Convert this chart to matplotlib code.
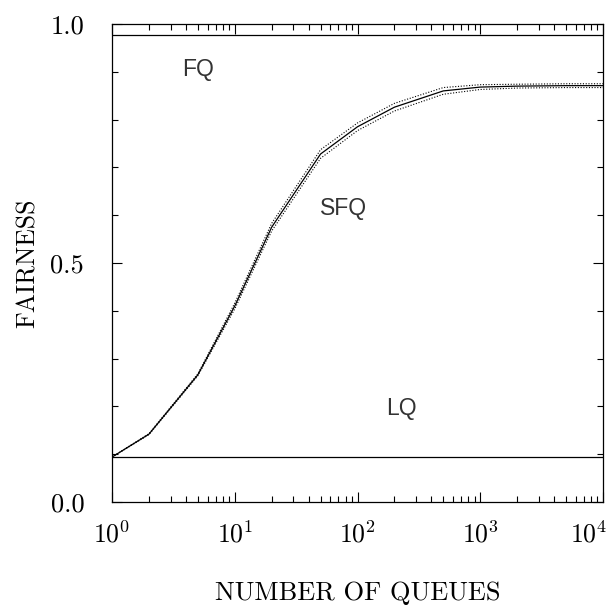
import numpy as np
import matplotlib
matplotlib.use("Agg")
import matplotlib.pyplot as plt
import matplotlib.transforms as mtransforms
from matplotlib.ticker import LogLocator, MultipleLocator, FixedLocator, NullFormatter

# data
queues = [1, 2, 5, 10, 20, 50, 100, 200, 500, 1000, 2000, 5000, 10000]
sfq_mean = [0.094, 0.142, 0.266, 0.410, 0.575, 0.728, 0.785, 0.826, 0.860, 0.868, 0.870, 0.871, 0.871]
sfq_high = [0.094, 0.143, 0.268, 0.416, 0.583, 0.737, 0.793, 0.834, 0.867, 0.873, 0.874, 0.875, 0.875]
sfq_low = [0.094, 0.141, 0.264, 0.404, 0.567, 0.719, 0.777, 0.818, 0.853, 0.863, 0.866, 0.867, 0.867]
fq_level = 0.977
lq_level = 0.094

labels = ["FQ", "SFQ", "LQ"]
label_x = [5.0, 77.0, 226.0]
label_y = [0.904, 0.613, 0.195]

plt.rcParams["font.family"] = "cmr10"
plt.rcParams["mathtext.fontset"] = "cm"
plt.rcParams["axes.formatter.use_mathtext"] = True

fig = plt.figure(figsize=(6.14, 6.15), dpi=100)
ax = fig.add_axes([0.1824, 0.1837, 0.7997, 0.7773])

ax.plot(queues, sfq_mean, color="black", lw=0.9)
ax.plot(queues, sfq_high, color="black", lw=0.8, ls=(0, (1, 1.5)))
ax.plot(queues, sfq_low, color="black", lw=0.8, ls=(0, (1, 1.5)))
ax.axhline(fq_level, color="black", lw=0.9)
ax.axhline(lq_level, color="black", lw=0.9)

for t, x, y in zip(labels, label_x, label_y):
    ax.text(x, y, t, ha="center", va="center", fontsize=16.5,
            family="Liberation Sans", color="#333333")

ax.set_xscale("log")
ax.set_xlim(1, 1e4)
ax.set_ylim(0, 1)
ax.xaxis.set_major_locator(FixedLocator([1, 10, 100, 1000, 10000]))
ax.xaxis.set_minor_locator(LogLocator(base=10, subs=np.arange(2, 10), numticks=20))
ax.xaxis.set_minor_formatter(NullFormatter())
ax.set_xticklabels([r"$10^{0}$", r"$10^{1}$", r"$10^{2}$", r"$10^{3}$", r"$10^{4}$"])
ax.yaxis.set_major_locator(FixedLocator([0, 0.5, 1.0]))
ax.yaxis.set_minor_locator(MultipleLocator(0.1))
ax.set_yticklabels(["0.0", "0.5", "1.0"])

ax.tick_params(which="both", direction="in", top=True, right=True, width=0.8)
ax.tick_params(which="major", length=7)
ax.tick_params(which="minor", length=4)
ax.tick_params(axis="x", which="major", pad=14, labelsize=18.5)
ax.tick_params(axis="y", which="major", pad=20, labelsize=19)
for s in ax.spines.values():
    s.set_linewidth(0.9)

# last x label sits pulled in from the right edge
last = ax.get_xticklabels()[-1]
last.set_transform(last.get_transform() + mtransforms.ScaledTranslation(-0.14, 0, fig.dpi_scale_trans))

ax.set_xlabel("NUMBER OF QUEUES", fontsize=19, labelpad=24)
ax.set_ylabel("FAIRNESS", fontsize=18.5, labelpad=8)

fig.savefig("out.png", dpi=100)
